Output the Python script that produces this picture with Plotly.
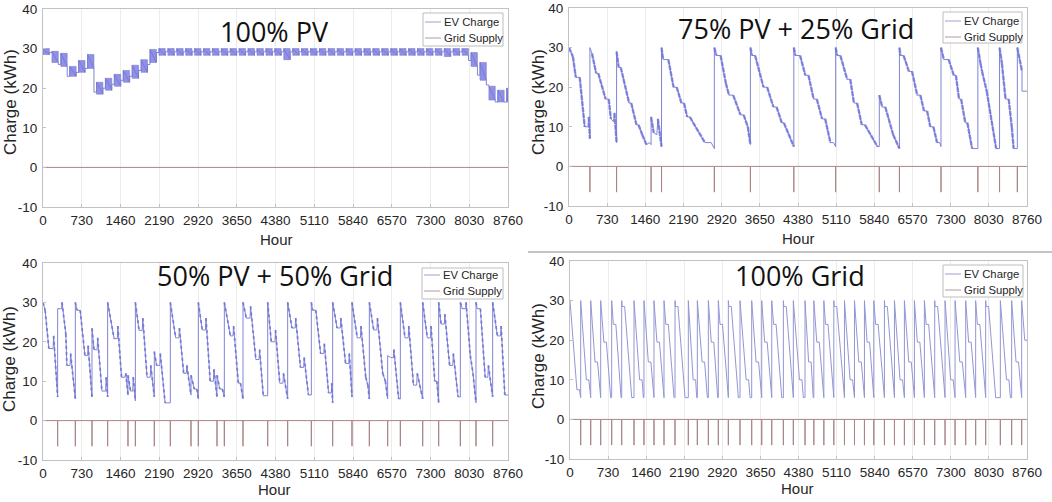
import plotly.graph_objects as go

# ---------------- data ----------------
HOUR_MAX = 8760
X_TICKS = [0, 730, 1460, 2190, 2920, 3650, 4380, 5110, 5840, 6570, 7300, 8030, 8760]
Y_TICKS = [-10, 0, 10, 20, 30, 40]
TITLES = ["100% PV", "75% PV + 25% Grid", "50% PV + 50% Grid", "100% Grid"]
SERIES = ["EV Charge", "Grid Supply"]
GRID_SPIKE_DEPTH = -6.5

# Panel 1 (100% PV): weekly blocks of daily PV top-ups
pv_week_start = [0, 168, 336, 504, 672, 840, 1008, 1176, 1344, 1512, 1680, 1848, 2016,
                 2184, 2352, 2520, 2688, 2856, 3024, 3192, 3360, 3528, 3696, 3864, 4032,
                 4200, 4368, 4536, 4704, 4872, 5040, 5208, 5376, 5544, 5712, 5880, 6048,
                 6216, 6384, 6552, 6720, 6888, 7056, 7224, 7392, 7560, 7728, 7896, 8064,
                 8232, 8400, 8568, 8736]
pv_low = [28.5, 26.5, 25.5, 23, 24, 25, 18.5, 19.5, 20.5, 21.5, 22.5, 24, 26.5,
          28.3, 28.3, 28.3, 28.3, 28.3, 28.3, 28.3, 28.3, 28.3, 28.3, 28.3, 28.3,
          28.3, 28.3, 27.2, 28.3, 28.3, 28.3, 28.3, 28.3, 28.3, 28.3, 28.3, 28.3,
          28.3, 28.3, 28.3, 28.3, 28.3, 28.3, 28.3, 28.3, 28.0, 28.3, 28.3, 25.5,
          22, 17, 16.5, 16.5]
pv_high = [30, 29.3, 28.8, 25.5, 27, 28.5, 21.5, 22.5, 23.5, 24.5, 25.8, 27.2, 29.8,
           30, 30, 30, 30, 30, 30, 30, 30, 30, 30, 30, 30,
           30, 30, 30, 30, 30, 30, 30, 30, 30, 30, 30, 30,
           30, 30, 30, 30, 30, 30, 30, 30, 30, 30, 30, 29,
           26.5, 20.5, 19.5, 20]
pv_rest = [29, 26, 23, 24, 25, 19, 20, 21, 22, 23, 24.5, 26, 29,
           29.2, 29.2, 29.2, 29.2, 29.2, 29.2, 29.2, 29.2, 29.2, 29.2, 29.2, 29.2,
           29.2, 29.2, 29.2, 29.2, 29.2, 29.2, 29.2, 29.2, 29.2, 29.2, 29.2, 29.2,
           29.2, 29.2, 29.2, 29.2, 29.2, 29.2, 29.2, 29.2, 29.2, 29.2, 27, 23.3,
           20.8, 16.5, 16.5, 16.5]
PV_BLOCK_HOURS = 120

# Panel 2 (75% PV + 25% Grid): EV charge vertices (hour, kWh)
p75_points = [
    (0, 30), (75, 27.7), (130, 22.5), (205, 22.5), (300, 10), (360, 10), (380, 12.5), (400, 7),
    (400, 30), (440, 28.5), (520, 23.5), (560, 23.5), (700, 17), (760, 17), (800, 12), (850, 11.3), (870, 13.5), (910, 6),
    (910, 29), (950, 25), (990, 25), (1150, 16), (1190, 16), (1290, 10.5), (1330, 10.5), (1400, 8), (1480, 5.5), (1540, 6), (1570, 5.5),
    (1570, 12.5), (1620, 8.5), (1680, 8), (1700, 12), (1770, 5),
    (1770, 30), (1800, 27), (1900, 27), (2000, 20), (2060, 20), (2150, 16), (2200, 16), (2260, 12.5), (2310, 12.5), (2600, 6), (2720, 6), (2780, 4.5),
    (2780, 30), (2820, 28), (2900, 28), (3000, 21), (3060, 18), (3140, 18), (3280, 13), (3340, 13), (3420, 10), (3470, 5.5),
    (3470, 30), (3500, 28), (3560, 28), (3720, 20), (3790, 20), (3910, 15), (3970, 15), (4070, 11), (4110, 11), (4300, 5),
    (4300, 30), (4330, 28), (4420, 28), (4520, 23), (4580, 23), (4680, 17), (4740, 17), (4840, 12), (4900, 12), (5000, 6), (5060, 6), (5100, 5),
    (5100, 30), (5130, 28), (5190, 28), (5320, 22), (5380, 22), (5450, 16), (5510, 16), (5600, 10.5), (5660, 10.5), (5900, 5), (5935, 5),
    (5935, 18), (5990, 15), (6050, 15), (6200, 8), (6320, 4.5),
    (6320, 30), (6340, 28), (6400, 28), (6500, 24), (6560, 24), (6660, 18), (6720, 18), (6790, 14), (6850, 14), (6910, 10), (6970, 10), (7040, 6), (7090, 6), (7115, 5),
    (7115, 30), (7170, 27), (7260, 27), (7360, 23), (7400, 23), (7460, 17), (7500, 17), (7580, 11), (7620, 11), (7710, 4.5), (7820, 4.5),
    (7820, 30), (7870, 26), (7900, 24), (7990, 19), (8170, 4.5), (8235, 4.5),
    (8235, 30), (8280, 26), (8350, 17), (8410, 17), (8470, 10), (8505, 4.5), (8575, 4.5),
    (8575, 30), (8665, 24), (8665, 19), (8760, 19),
]
p75_grid_hours = [400, 910, 1570, 1770, 2780, 3470, 4300, 5100, 5935, 6320, 7115, 7820, 8235, 8575]

# Panel 3 (50% PV + 50% Grid)
p50_points = [
    (0, 30), (40, 28), (110, 18.3), (190, 18.3), (200, 21.5), (276, 6),
    (276, 28.4), (350, 28.4), (358, 30), (430, 22), (450, 14), (510, 14), (520, 17), (609, 5.5),
    (609, 30), (640, 28), (700, 28), (790, 16.5), (840, 16.5), (850, 19), (923, 6),
    (923, 23.4), (960, 18), (1020, 18), (1030, 21), (1110, 7.5), (1180, 7.5), (1190, 11), (1218, 6),
    (1218, 30), (1340, 20.8), (1400, 20.8), (1410, 24), (1480, 11), (1540, 11), (1560, 12), (1601, 6.5),
    (1601, 11.5), (1650, 7.5), (1690, 7.5), (1700, 11), (1740, 5),
    (1740, 30), (1810, 22.9), (1870, 22.9), (1880, 26), (1960, 11), (2020, 11), (2030, 14), (2097, 6),
    (2097, 17.5), (2140, 14), (2200, 14), (2210, 17), (2300, 4.5), (2399, 4.5),
    (2399, 30), (2500, 21), (2560, 21), (2570, 23.5), (2650, 12), (2700, 12), (2710, 14), (2788, 6.5),
    (2788, 11.5), (2850, 8), (2900, 8), (2926, 5.5),
    (2926, 30), (3000, 23), (3060, 23), (3070, 26), (3150, 10), (3210, 10), (3220, 13), (3278, 6),
    (3278, 11.5), (3330, 8), (3380, 8), (3416, 6),
    (3416, 30), (3530, 21.5), (3580, 21.5), (3590, 24), (3680, 9.5), (3720, 9.5), (3768, 5.5),
    (3768, 30), (3830, 26), (3900, 26), (3910, 29), (4010, 15.5), (4070, 15.5), (4080, 18), (4150, 6.3), (4233, 6.3),
    (4233, 30), (4300, 20), (4370, 20), (4380, 23), (4460, 9.5), (4520, 9.5), (4530, 12), (4609, 5.5),
    (4609, 30), (4690, 23.5), (4750, 23.5), (4760, 26), (4850, 13.5), (4910, 13.5), (4920, 16), (5000, 6.5), (5055, 6.5),
    (5055, 30), (5080, 28), (5140, 28), (5230, 17), (5290, 17), (5300, 19.5), (5380, 7), (5430, 7), (5440, 9.5), (5457, 4.5),
    (5457, 30), (5540, 23.5), (5600, 23.5), (5610, 26), (5700, 14.5), (5760, 14.5), (5770, 17), (5821, 6),
    (5821, 30), (5920, 21), (5980, 21), (5990, 24), (6080, 11), (6120, 9), (6148, 5.5),
    (6148, 30), (6230, 23), (6290, 23), (6300, 26), (6400, 12), (6450, 10), (6493, 5.5),
    (6493, 16.5), (6550, 16), (6600, 16), (6610, 18), (6700, 5.5), (6732, 5.5),
    (6732, 30), (6820, 21), (6880, 21), (6890, 24), (6980, 9), (7040, 9), (7050, 12), (7153, 5.5),
    (7153, 30), (7240, 21), (7300, 21), (7310, 24), (7380, 10), (7420, 10), (7454, 4.5),
    (7454, 30), (7500, 24.5), (7560, 24.5), (7570, 27), (7660, 14), (7720, 14), (7730, 17), (7820, 6), (7862, 6),
    (7862, 30), (7900, 28.4), (7960, 28.4), (7970, 30), (8050, 16.5), (8100, 12), (8157, 4.5),
    (8157, 30), (8180, 28.4), (8240, 28.4), (8330, 11), (8380, 11), (8390, 14), (8471, 6),
    (8471, 30), (8560, 21.5), (8620, 21.5), (8630, 24), (8700, 6.5), (8760, 6.5),
]
p50_grid_hours = [276, 609, 923, 1218, 1601, 1740, 2097, 2399, 2788, 2926, 3278, 3416, 3768,
                  4233, 4609, 5055, 5457, 5821, 6148, 6493, 6732, 7153, 7454, 7862, 8157, 8471]

# Panel 4 (100% Grid): recharge hours and weekend plateau level of each cycle
grid_recharge_hours = [205, 397, 588, 799, 991, 1227, 1418, 1610, 1802, 2013, 2268, 2441,
                       2652, 2843, 3035, 3259, 3483, 3675, 3867, 4090, 4281, 4505, 4674,
                       4866, 5057, 5261, 5453, 5644, 5823, 6027, 6219, 6410, 6602, 6793,
                       6991, 7189, 7381, 7585, 7776, 7968, 8249, 8466, 8658]
grid_weekend_level = [7.5, 10, 14.5, 19.5, 24, 28.5, 10, 14.5, 19.5, 24, 28.5, 10,
                      14.5, 19.5, 24, 28.5, 10, 14.5, 19.5, 24, 28.5, 10, 14.5,
                      19.5, 24, 28.5, 10, 14.5, 19.5, 24, 28.5, 10, 14.5, 19.5,
                      24, 28.5, 10, 14.5, 19.5, 24, 28.5, 10, 14.5, 20]
GRID_FULL = 30
GRID_EMPTY = 5.5
GRID_DRIVE_HOURS = 144
GRID_WEEKEND_HOURS = 48

# ---------------- styling ----------------
EV_COLOR = "#8185d2"
EV_DARK = "#7074da"
SUPPLY_COLOR = "#a98585"
AXIS_COLOR = "#c2c2c2"
TEXT_COLOR = "#262626"
FONT = "Liberation Sans, Arial, sans-serif"
TITLE_FONT = "Open Sans, Noto Sans, sans-serif"

W, H = 1052, 502
# plot areas in pixels: (left, right, top, bottom)
PANELS = [(43, 508, 9, 207), (569, 1027, 8, 206), (43, 508, 263, 460), (570, 1027, 261, 459)]
# legend boxes in pixels: (left, right, top, bottom, row1 y, row2 y)
LEGEND_BOX = [(423, 503, 13, 46, 22, 38), (943, 1022, 12, 43, 21, 37),
              (422, 503, 268, 299, 275, 291), (943, 1023, 265, 297, 274, 290)]
TITLE_POS = [(274, 32), (796, 29), (275, 275), (800, 275)]
YTITLE_POS = [(10, 102), (538, 102), (9, 359), (538, 356)]
XTITLE_POS = [(276, 239), (798, 238), (274, 489), (797, 488)]


def px_x(v):
    return v / W


def px_y(v):
    return 1 - v / H


def split(points):
    return [p[0] for p in points], [p[1] for p in points]


def supply_path(spikes):
    xs, ys = [0], [0]
    for t in spikes:
        xs += [t, t, t]
        ys += [0, GRID_SPIKE_DEPTH, 0]
    xs.append(HOUR_MAX)
    ys.append(0)
    return xs, ys


def decline_segments(xs, ys):
    sx, sy = [], []
    for i in range(len(xs) - 1):
        if xs[i + 1] > xs[i] and ys[i + 1] < ys[i] - 1.5:
            sx += [xs[i], xs[i + 1], None]
            sy += [ys[i], ys[i + 1], None]
    return sx, sy


def grid_only_path(recharges, levels):
    starts = [0] + recharges
    ends = recharges + [HOUR_MAX]
    xs, ys = [], []
    for k, (t0, t1, lvl) in enumerate(zip(starts, ends, levels)):
        span = t1 - t0
        if k == len(starts) - 1:
            drive = GRID_DRIVE_HOURS
        else:
            drive = min(GRID_DRIVE_HOURS, span - GRID_WEEKEND_HOURS - 12)
        rate = (GRID_FULL - GRID_EMPTY) / drive
        t_lvl = t0 + (GRID_FULL - lvl) / rate
        t_hold = t_lvl + GRID_WEEKEND_HOURS
        t_empty = t0 + drive + GRID_WEEKEND_HOURS
        xs += [t0, t_lvl, t_hold, t_empty, max(t1, t_empty)]
        ys += [GRID_FULL, lvl, lvl, GRID_EMPTY, GRID_EMPTY]
    return xs, ys


def pv_blocks():
    bx, by, lx, ly = [], [], [], []
    for i, s in enumerate(pv_week_start):
        e = min(s + PV_BLOCK_HOURS, HOUR_MAX)
        lo, hi = pv_low[i], pv_high[i]
        bx += [s, e, e, s, s, None]
        by += [lo, lo, hi, hi, lo, None]
        nxt = pv_week_start[i + 1] if i + 1 < len(pv_week_start) else HOUR_MAX
        lx += [s, e, e, nxt]
        ly += [hi, lo, pv_rest[i], pv_rest[i]]
    return bx, by, lx, ly


fig = go.Figure()
axis_ids = [("x", "y"), ("x2", "y2"), ("x3", "y3"), ("x4", "y4")]


def add_line(k, xs, ys, name, color, width, dash=None, opacity=1.0):
    xa, ya = axis_ids[k]
    fig.add_trace(go.Scatter(
        x=xs, y=ys, mode="lines", name=name, xaxis=xa, yaxis=ya,
        line=dict(color=color, width=width, dash=dash), opacity=opacity,
        showlegend=False, hoverinfo="skip"))


# Panel 1
bx, by, lx, ly = pv_blocks()
add_line(0, lx, ly, SERIES[0], EV_COLOR, 1)
xa, ya = axis_ids[0]
fig.add_trace(go.Scatter(x=bx, y=by, mode="lines", fill="toself", xaxis=xa, yaxis=ya,
                         fillcolor="rgba(118,120,224,0.82)", name=SERIES[0],
                         line=dict(color="rgba(120,120,200,0.9)", width=0.6),
                         showlegend=False, hoverinfo="skip"))
add_line(0, [0, HOUR_MAX], [0, 0], SERIES[1], SUPPLY_COLOR, 1)

# Panel 2
x2, y2 = split(p75_points)
add_line(1, x2, y2, SERIES[0], EV_COLOR, 1)
sx, sy = decline_segments(x2, y2)
add_line(1, sx, sy, SERIES[0], EV_DARK, 2.4, dash="5px,1px", opacity=0.78)
gx, gy = supply_path(p75_grid_hours)
add_line(1, gx, gy, SERIES[1], SUPPLY_COLOR, 1)

# Panel 3
x3, y3 = split(p50_points)
add_line(2, x3, y3, SERIES[0], EV_COLOR, 1)
sx, sy = decline_segments(x3, y3)
add_line(2, sx, sy, SERIES[0], EV_DARK, 1.8, dash="3px,3px", opacity=0.85)
gx, gy = supply_path(p50_grid_hours)
add_line(2, gx, gy, SERIES[1], SUPPLY_COLOR, 1)

# Panel 4
x4, y4 = grid_only_path(grid_recharge_hours, grid_weekend_level)
add_line(3, x4, y4, SERIES[0], "#9296d4", 1)
gx, gy = supply_path(grid_recharge_hours)
add_line(3, gx, gy, SERIES[1], SUPPLY_COLOR, 1)

layout = dict(
    width=W, height=H, autosize=False,
    margin=dict(l=0, r=0, t=0, b=0, autoexpand=False),
    paper_bgcolor="white", plot_bgcolor="white",
    font=dict(family=FONT, color=TEXT_COLOR),
    showlegend=False,
)

annotations = []
shapes = []
for k, (l, r, t, b) in enumerate(PANELS):
    sfx = "" if k == 0 else str(k + 1)
    layout["xaxis" + sfx] = dict(
        domain=[px_x(l), px_x(r)], range=[0, HOUR_MAX], anchor="y" + sfx, automargin=False,
        tickmode="array", tickvals=X_TICKS, ticktext=[str(v) for v in X_TICKS],
        showline=True, mirror=True, linecolor=AXIS_COLOR, linewidth=1,
        ticks="inside", ticklen=3, tickcolor=AXIS_COLOR,
        showgrid=True, gridcolor="#ececec", gridwidth=1, zeroline=False,
        tickfont=dict(size=13.5, family=FONT, color=TEXT_COLOR), ticklabelstandoff=1,
    )
    layout["yaxis" + sfx] = dict(
        domain=[px_y(b), px_y(t)], range=[-10, 40], anchor="x" + sfx, automargin=False,
        tickmode="array", tickvals=Y_TICKS, ticktext=[str(v) for v in Y_TICKS],
        showline=True, mirror=True, linecolor=AXIS_COLOR, linewidth=1,
        ticks="inside", ticklen=3, tickcolor=AXIS_COLOR,
        showgrid=False, zeroline=False,
        tickfont=dict(size=13.5, family=FONT, color=TEXT_COLOR), ticklabelstandoff=2,
    )
    # legend box drawn like the original figure's compact legend
    bl, br, bt, bb, r1, r2 = LEGEND_BOX[k]
    shapes.append(dict(type="rect", xref="paper", yref="paper",
                       x0=px_x(bl), x1=px_x(br), y0=px_y(bb), y1=px_y(bt),
                       fillcolor="white", line=dict(color="#bdbdbd", width=1), layer="above"))
    for ry, col in ((r1, "#9ea0cc"), (r2, "#b49a9a")):
        shapes.append(dict(type="line", xref="paper", yref="paper",
                           x0=px_x(bl + 2), x1=px_x(bl + 18), y0=px_y(ry), y1=px_y(ry),
                           line=dict(color=col, width=1), layer="above"))
    for ry, label in ((r1, SERIES[0]), (r2, SERIES[1])):
        annotations.append(dict(text=label, x=px_x(bl + 19), y=px_y(ry), xref="paper", yref="paper",
                                xanchor="left", yanchor="middle", showarrow=False,
                                font=dict(size=11.3, family=FONT, color=TEXT_COLOR)))
    tx, ty = TITLE_POS[k]
    annotations.append(dict(text=TITLES[k], x=px_x(tx), y=px_y(ty), xref="paper", yref="paper",
                            xanchor="center", yanchor="middle", showarrow=False,
                            font=dict(size=27, family=TITLE_FONT, color="#111111")))
    yx, yy = YTITLE_POS[k]
    annotations.append(dict(text="Charge (kWh)", x=px_x(yx), y=px_y(yy), xref="paper", yref="paper",
                            xanchor="center", yanchor="middle", textangle=-90, showarrow=False,
                            font=dict(size=17, family=FONT, color=TEXT_COLOR)))
    hx, hy = XTITLE_POS[k]
    annotations.append(dict(text="Hour", x=px_x(hx), y=px_y(hy), xref="paper", yref="paper",
                            xanchor="center", yanchor="middle", showarrow=False,
                            font=dict(size=15, family=FONT, color=TEXT_COLOR)))

shapes.append(dict(type="line", xref="paper", yref="paper",
                   x0=px_x(528), x1=1, y0=px_y(252), y1=px_y(252),
                   line=dict(color="#8a8a8a", width=1)))
layout["annotations"] = annotations
layout["shapes"] = shapes
fig.update_layout(**layout)

# remove the page's default body margin so the figure sits at the window origin
fig.write_html("out.html",
               config={"displayModeBar": False, "staticPlot": True},
               post_script="document.body.style.margin='0';document.body.style.overflow='hidden';")
